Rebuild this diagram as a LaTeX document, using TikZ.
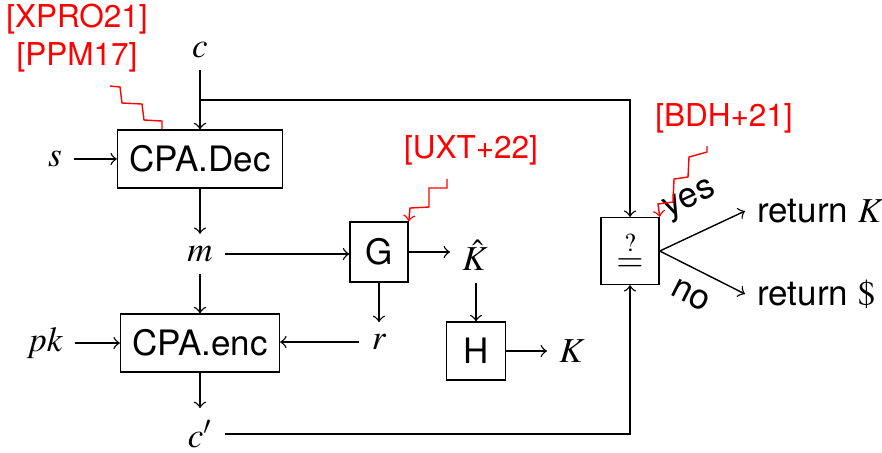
\documentclass[tikz,border=0pt]{standalone}
\usepackage{mathptmx}
\usepackage{fontspec}
\setmainfont{TeX Gyre Heros}
\setsansfont{TeX Gyre Heros}
\begin{document}
\begin{tikzpicture}[x=0.2857pt,y=-0.2857pt,>=to,
  box/.style={draw,line width=0.4pt,inner sep=0pt,font=\sffamily},
  reflab/.style={text=red,font=\sffamily\small,align=center},
  bolt/.style={draw=red,line width=0.4pt},
  flow/.style={->,line width=0.4pt}]
\useasboundingbox (0,0) rectangle (882,452);
% boxes
\node[box,minimum width=47.1pt,minimum height=16.6pt] (dec) at (200,159) {CPA.Dec};
\node[box,minimum width=45.4pt,minimum height=16.6pt] (enc) at (200,343) {CPA.enc};
\node[box,minimum width=16.6pt,minimum height=17.1pt] (G) at (379,252) {G};
\node[box,minimum width=16.9pt,minimum height=16.6pt] (H) at (476,351) {H};
\node[box,minimum width=16.6pt,minimum height=19.1pt] (eq) at (630,251) {$\stackrel{?}{=}$};
% labels
\node (c) at (200,50) {$c$};
\node (s) at (55,159) {$s$};
\node (m) at (200,254) {$m$};
\node (pk) at (45,343) {$pk$};
\node (r) at (379,342) {$r$};
\node (cp) at (200,434) {$c'$};
\node (Kh) at (475,255) {$\hat{K}$};
\node (K) at (572,351) {$K$};
\node[anchor=west] (rK) at (745,211) {return $K$};
\node[anchor=west] (rD) at (745,294) {return $\$$};
% references
\node[reflab] (ref1) at (77,38) {[XPRO21]\\{[PPM17]}};
\node[reflab] (ref2) at (471,150) {[UXT+22]};
\node[reflab] (ref3) at (724,118) {[BDH+21]};
% connectors
\draw[flow] (c.south) -- (dec.north);
\coordinate (cb) at (200,100);
\draw[flow] (cb) -| (eq.north);
\draw[flow] (s.east) -- (s.east -| dec.west);
\draw[flow] (dec.south) -- (m.north);
\draw[flow] (m.east) -- (m.east -| G.west);
\draw[flow] (m.south) -- (enc.north);
\draw[flow] (G.east) -- (G.east -| Kh.west);
\draw[flow] (G.south) -- (r.north);
\draw[flow] (r.west) -- (r.west -| enc.east);
\draw[flow] (pk.east) -- (pk.east -| enc.west);
\draw[flow] (enc.south) -- (cp.north);
\draw[flow] (cp.east) -| (eq.south);
\draw[flow] (H.north |- Kh.south) -- (H.north);
\draw[flow] (H.east) -- (H.east -| K.west);
\draw[flow] (eq.east) -- (rK.west) node[pos=0.52,above=2pt,sloped,font=\sffamily] {yes};
\draw[flow] (eq.east) -- (rD.west) node[pos=0.5,below=1pt,sloped,font=\sffamily] {no};
% bolts
\coordinate (b1) at (110,86);
\draw[bolt] (b1) -- (120,87) -- (122,103) -- (142,104) -- (144,120) -- (162,121) -- (162,0 |- dec.north);
\coordinate (b2) at (447,179);
\draw[bolt,->] (b2) -- (447,188) -- (429,188) -- (429,207) -- (410,208) -- (G.north east);
\coordinate (b3) at (707,146);
\draw[bolt,->] (b3) -- (707,152) -- (689,157) -- (688,177) -- (674,179) -- (673,202) -- (658,204) -- (eq.north east);
\end{tikzpicture}
\end{document}
